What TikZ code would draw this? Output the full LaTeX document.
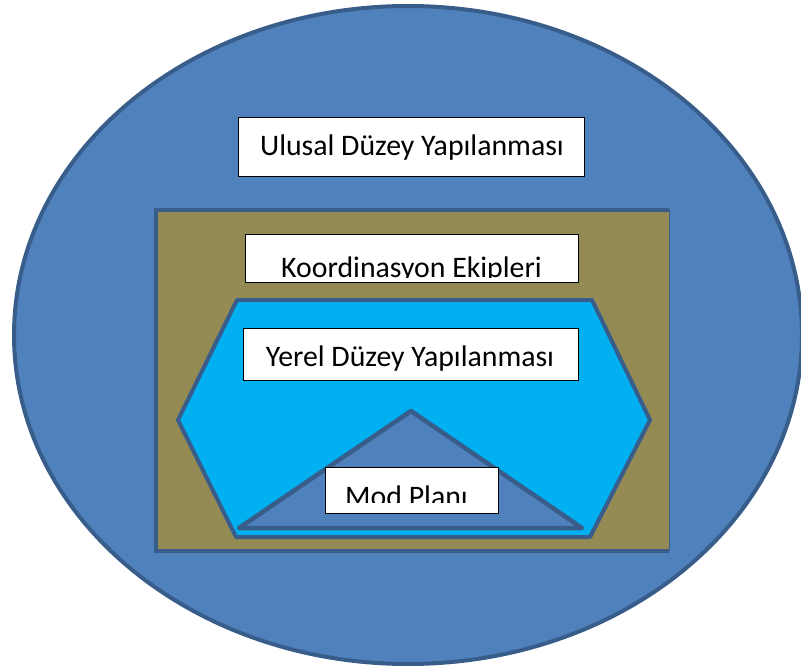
\documentclass[tikz,border=0pt]{standalone}
\usepackage{fontspec}
\setmainfont{Carlito}
\definecolor{outerblue}{HTML}{4F81BD}
\definecolor{edgeblue}{HTML}{385D8A}
\definecolor{olivefill}{HTML}{948A54}
\definecolor{cyanfill}{HTML}{00B0F0}
\tikzset{
  textbox/.style={draw=black, line width=0.9pt, fill=white, inner sep=0pt},
  lbl/.style={inner sep=0pt, font=\fontsize{29.8}{36}\selectfont, text=black},
  shapeedge/.style={draw=edgeblue, line width=4pt, line join=round}
}
\begin{document}
\begin{tikzpicture}[x=1pt,y=-1pt]
\useasboundingbox (0,0) rectangle (801,667);
% outer ellipse
\draw[shapeedge, fill=outerblue, line width=4pt] (408,335) ellipse [x radius=394pt, y radius=329pt];
\coordinate (ecenter) at (408,335);
% olive rectangle
\fill[olivefill] (156,210) rectangle (669,551);
\draw[shapeedge, line join=miter] (669,210) -- (156,210) -- (156,551) -- (669,551);
\draw[edgeblue, line width=0.8pt] (669,210) -- (669,551);
% hexagon
\draw[shapeedge, fill=cyanfill] (237,300) -- (592,300) -- (650,420) -- (590,537) -- (236,537) -- (178,420) -- cycle;
% triangle
\draw[shapeedge, fill=outerblue, line width=4.5pt] (411,411) -- (582,528) -- (239,528) -- cycle;
% Ulusal
\node[textbox, minimum width=346pt, minimum height=59pt] (ulusal) at (411,146.5) {};
\node[lbl, anchor=base] (ulusalt) at (412,155) {Ulusal Düzey Yapılanması};
% Koordinasyon
\node[textbox, minimum width=333pt, minimum height=48pt] (koord) at (411.5,258) {};
\begin{scope}
\clip (246,235) rectangle (577,277);
\node[lbl, anchor=base] (koordt) at (411.5,277) {Koordinasyon Ekipleri};
\end{scope}
% Yerel
\node[textbox, minimum width=335pt, minimum height=52pt] (yerel) at (410.5,354) {};
\node[lbl, anchor=base] (yerelt) at (410,366) {Yerel Düzey Yapılanması};
% Mod Plani
\node[textbox, minimum width=173pt, minimum height=46pt] (mod) at (411.5,490) {};
\begin{scope}
\clip (326,468) rectangle (497,502);
\node[lbl, anchor=base] (modt) at (406.5,506) {Mod Planı};
\end{scope}
\end{tikzpicture}
\end{document}
